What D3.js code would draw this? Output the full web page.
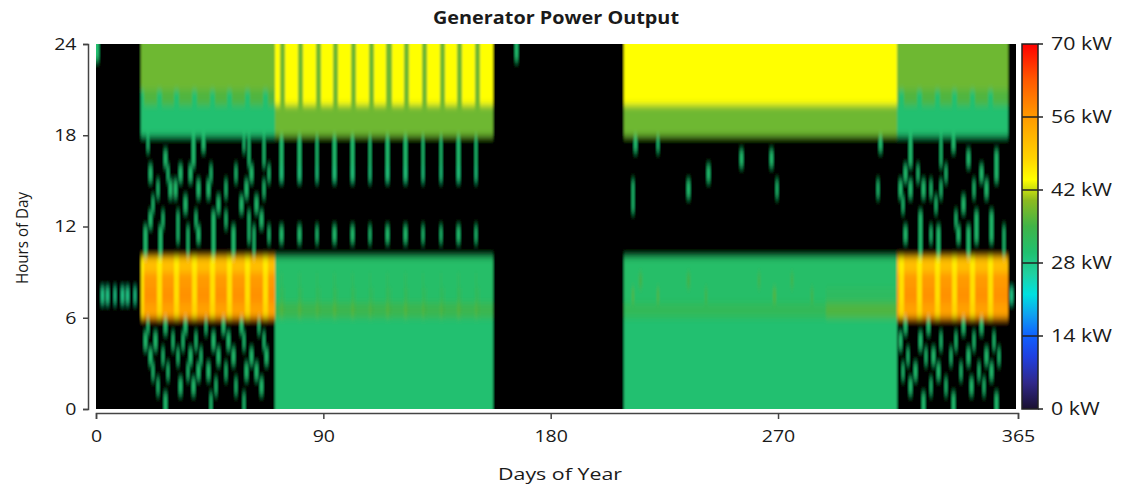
<!DOCTYPE html>
<html><head><meta charset="utf-8">
<script src="https://cdn.jsdelivr.net/npm/d3@7/dist/d3.min.js"></script>
<style>
body{margin:0;background:#fff;}
svg{display:block;}
text{font-family:"Open Sans",sans-serif;fill:#1a1a1a;}
</style>
</head><body>
<svg id="chart" width="1127" height="490"></svg>
<script>
// ---------- tick labels ----------
const dayTicks = [0, 90, 180, 270, 365];
const hourTicks = [0, 6, 12, 18, 24];
const kwTicks = [0, 14, 28, 42, 56, 70];

// ---------- colour ramp (kW -> colour) ----------
const rampKW = [0, 5, 10, 14, 18, 22, 26, 30, 35, 40, 44, 48, 56, 63, 70];
const rampColors = ["#1a1030", "#30288a", "#2040e0", "#1060ff", "#10a0f0", "#00e0e0", "#20d0a0",
  "#20c070", "#40b448", "#8cba20", "#ffff00", "#ffd400", "#ff9a00", "#ff5a00", "#ff0000"];

// ---------- operating seasons (day ranges) ----------
const seasonStart = [0, 18, 71, 157, 209, 289, 317, 361];
const seasonEnd   = [18, 71, 157, 209, 289, 317, 361, 365];
const seasonName  = ["off", "winter", "spring", "off", "summer", "lateSummer", "winter", "off"];

// ---------- typical hourly output (kW), hours 0..23 ----------
const offDay          = [0,0,0,0,0,0, 0,0,0,0, 0,0,0,0,0,0,0,0, 0,0,0,0,0,0];
const winterWeekday   = [0,0,0,0,0,0, 55,57,56,51, 0,0,0,0,0,0,0,0, 30,30,36,38,38,38];
const winterWeekend   = [0,0,0,0,0,0, 48,47,47,46, 0,0,0,0,0,0,0,0, 30,30,30,38,38,38];
const springWeekday   = [30,30,30,30,30,30, 34,31,31,31, 0,0,0,0,0,0,0,0, 38,38,44,44,44,44];
const springSaturday  = [30,30,30,30,30,30, 36,33,32,31, 0,30,0,0,0,29,30,30, 38,38,38,38,38,38];
const springSunday    = [30,30,30,30,30,30, 35,32,31,31, 0,0,0,0,0,0,0,0, 38,38,38,38,38,38];
const summerWeekday   = [30,30,30,30,30,30, 33,31,31,31, 0,0,0,0,0,0,0,0, 38,38,44,44,44,44];
const lateSummerDay   = [30,30,30,30,30,30, 36,32,31,31, 0,0,0,0,0,0,0,0, 38,38,44,44,44,44];

// ---------- weekend days ----------
const saturdays = [17,24,31,38,45,52,59,66,73,80,87,94,101,108,115,122,129,136,143,150,
                   318,325,332,339,346,353];
const sundays   = [18,25,32,39,46,53,60,67,74,81,88,95,102,109,116,123,130,137,144,151,
                   319,326,333,340,347,354];

// ---------- individual hours that differ from the typical day: [day, hour, kW] ----------
const spotDays = [
  // early January test runs
  [2,7,28],[4,7,28],[7,7,28],[10,7,28],[12,7,28],[15,7,28],[0,23,30],
  // winter (Jan-Mar)
  [20,17,30],[38,17,30],[42,17,30],[58,17,30],[60,17,30],[66,17,30],
  [27,16,30],[38,16,30],[60,16,30],[66,16,30],
  [21,15,30],[28,15,30],[33,15,30],[37,15,30],[45,15,30],[55,15,30],[61,15,30],[68,15,30],
  [24,14,30],[29,14,30],[31,14,30],[40,14,30],[44,14,30],[51,14,30],[59,14,30],[66,14,30],
  [22,13,30],[35,13,30],[48,13,30],[57,13,30],[63,13,30],
  [21,12,30],[26,12,30],[32,12,30],[39,12,30],[46,12,30],[51,12,30],[60,12,30],[65,12,30],
  [19,11,30],[25,11,30],[32,11,30],[36,11,30],[40,11,30],[46,11,30],[54,11,30],[60,11,30],[62,11,30],[68,11,30],
  [19,10,30],[25,10,30],[36,10,30],[46,10,30],[54,10,30],[62,10,30],
  [20,5,30],[27,5,30],[35,5,30],[43,5,30],[50,5,30],[57,5,30],[64,5,30],
  [19,4,30],[23,4,30],[30,4,30],[34,4,30],[39,4,30],[46,4,30],[52,4,30],[58,4,30],[66,4,30],
  [21,3,30],[26,3,30],[32,3,30],[37,3,30],[41,3,30],[48,3,30],[54,3,30],[61,3,30],[67,3,30],
  [22,2,30],[28,2,30],[36,2,30],[40,2,30],[44,2,30],[51,2,30],[59,2,30],[63,2,30],
  [24,1,30],[33,1,30],[38,1,30],[47,1,30],[55,1,30],[65,1,30],
  [27,0,30],[45,0,30],[58,0,30],
  // mid-year
  [166,23,30],
  [213,17,30],[222,17,30],[212,13,30],[212,14,30],[234,14,30],[242,15,30],[255,16,30],
  [267,16,30],[269,14,30],[310,17,30],[309,14,30],
  [212,7,36],[215,8,35],[222,7,36],[234,8,35],[241,7,35],[262,8,35],[268,7,36],[275,8,35],[283,7,35],
  // winter (Nov-Dec)
  [322,17,30],[334,17,30],[339,17,30],
  [322,16,30],[334,16,30],[345,16,30],[356,16,30],
  [320,15,30],[325,15,30],[336,15,30],[350,15,30],[356,15,30],
  [318,14,30],[322,14,30],[327,14,30],[330,14,30],[334,14,30],[347,14,30],[352,14,30],
  [319,13,30],[332,13,30],[343,13,30],
  [326,12,30],[340,12,30],[348,12,30],[354,12,30],
  [320,11,30],[326,11,30],[330,11,30],[333,11,30],[341,11,30],[345,11,30],[348,11,30],[354,11,30],[359,11,30],
  [326,10,30],[333,10,30],[345,10,30],[359,10,30],
  [320,5,30],[329,5,30],[343,5,30],[350,5,30],
  [318,4,30],[326,4,30],[334,4,30],[340,4,30],[347,4,30],[355,4,30],
  [321,3,30],[328,3,30],[331,3,30],[338,3,30],[345,3,30],[352,3,30],[357,3,30],
  [319,2,30],[324,2,30],[333,2,30],[342,2,30],[349,2,30],[354,2,30],
  [322,1,30],[330,1,30],[336,1,30],[346,1,30],[351,1,30],
  [327,0,30],[339,0,30],[356,0,30],
  [362,7,28]
];

// ---------- build the day x hour table ----------
const profileTable = {
  off:        {weekday: offDay, saturday: offDay, sunday: offDay},
  winter:     {weekday: winterWeekday, saturday: winterWeekend, sunday: winterWeekend},
  spring:     {weekday: springWeekday, saturday: springSaturday, sunday: springSunday},
  summer:     {weekday: summerWeekday, saturday: summerWeekday, sunday: summerWeekday},
  lateSummer: {weekday: lateSummerDay, saturday: lateSummerDay, sunday: lateSummerDay}
};
const cells = [];
for (let d = 0; d < 365; d++) {
  const s = seasonStart.findIndex((st, i) => d >= st && d < seasonEnd[i]);
  const p = profileTable[seasonName[s]];
  const prof = saturdays.includes(d) ? p.saturday : (sundays.includes(d) ? p.sunday : p.weekday);
  for (let h = 0; h < 24; h++) cells.push({day: d, hour: h, kw: prof[h]});
}
spotDays.forEach(([d, h, v]) => { cells[d * 24 + h].kw = v; });

// ---------- drawing ----------
const svg = d3.select("#chart");
const x = d3.scaleLinear().domain([0, 365]).range([96, 1018]);
const y = d3.scaleLinear().domain([0, 24]).range([409, 44]);
const color = d3.scaleLinear().domain(rampKW).range(rampColors).clamp(true);
const plotL = 96, plotR = 1016, plotT = 44, plotB = 409;

const defs = svg.append("defs");
defs.append("clipPath").attr("id", "plotClip").append("rect")
  .attr("x", plotL).attr("y", plotT).attr("width", plotR - plotL).attr("height", plotB - plotT);
defs.append("filter").attr("id", "smooth").attr("filterUnits", "userSpaceOnUse")
  .attr("x", plotL - 40).attr("y", plotT - 40).attr("width", plotR - plotL + 80).attr("height", plotB - plotT + 80)
  .append("feGaussianBlur").attr("stdDeviation", "0.8 3.6");

const heat = svg.append("g").attr("clip-path", "url(#plotClip)")
  .append("g").attr("filter", "url(#smooth)");
heat.append("rect").attr("x", plotL - 35).attr("y", plotT - 35)
  .attr("width", plotR - plotL + 70).attr("height", plotB - plotT + 70).attr("fill", "#000");
const ext = 30;
heat.selectAll("rect.cell").data(cells).join("rect").attr("class", "cell")
  .attr("shape-rendering", "crispEdges")
  .attr("x", d => x(d.day) - (d.day === 0 ? ext : 0))
  .attr("width", d => x(d.day + 1) - x(d.day) + 0.5 + (d.day === 0 || d.day === 364 ? ext : 0))
  .attr("y", d => y(d.hour + 1) - (d.hour === 23 ? ext : 0))
  .attr("height", d => y(d.hour) - y(d.hour + 1) + 0.5 + (d.hour === 23 || d.hour === 0 ? ext : 0))
  .attr("fill", d => d.kw > 0 ? color(d.kw) : "#000");

// axes
function styleAxis(g) {
  g.selectAll("path,line").attr("stroke", "#444").attr("stroke-width", 1.5);
  g.selectAll("text").attr("font-size", 17).attr("fill", "#1a1a1a")
    .attr("font-family", '"Open Sans",sans-serif');
}
const yAxis = svg.append("g").attr("transform", "translate(88,0)")
  .call(d3.axisLeft(y).tickValues(hourTicks).tickSize(5).tickPadding(5).tickFormat(d3.format("d")));
styleAxis(yAxis);
yAxis.selectAll("text").attr("transform", "scale(1.15,1)");

const xAxis = svg.append("g").attr("transform", "translate(0,413)")
  .call(d3.axisBottom(x).tickValues(dayTicks).tickSize(6).tickPadding(11).tickFormat(d3.format("d")));
styleAxis(xAxis);
xAxis.selectAll("text").attr("transform", "scale(1.15,1)");

// titles
svg.append("text").attr("x", 556).attr("y", 24).attr("text-anchor", "middle")
  .attr("font-size", 17).attr("font-weight", "bold").attr("textLength", 246)
  .attr("lengthAdjust", "spacingAndGlyphs").text("Generator Power Output");
svg.append("text").attr("x", 560).attr("y", 480).attr("text-anchor", "middle")
  .attr("font-size", 17).attr("textLength", 124).attr("lengthAdjust", "spacingAndGlyphs")
  .text("Days of Year");
svg.append("text").attr("transform", "translate(28,238) rotate(-90)").attr("text-anchor", "middle")
  .attr("font-size", 17).attr("textLength", 92).attr("lengthAdjust", "spacingAndGlyphs")
  .text("Hours of Day");

// colour bar
const cbX = 1022, cbW = 16;
const cy = d3.scaleLinear().domain([0, 70]).range([409, 44]);
const grad = defs.append("linearGradient").attr("id", "cbGrad")
  .attr("x1", 0).attr("y1", 1).attr("x2", 0).attr("y2", 0);
grad.selectAll("stop").data(rampKW).join("stop")
  .attr("offset", d => d / 70).attr("stop-color", (d, i) => rampColors[i]);
svg.append("rect").attr("x", cbX).attr("y", cy(70)).attr("width", cbW).attr("height", cy(0) - cy(70))
  .attr("fill", "url(#cbGrad)").attr("stroke", "#222").attr("stroke-width", 1.5);
const cbTicks = svg.append("g");
cbTicks.selectAll("line").data(kwTicks).join("line")
  .attr("x1", d => (d === 0 || d === 70) ? cbX + cbW : cbX).attr("x2", cbX + cbW + 5)
  .attr("y1", d => cy(d)).attr("y2", d => cy(d)).attr("stroke", "#222").attr("stroke-width", 1.5);
cbTicks.selectAll("text").data(kwTicks).join("text")
  .attr("transform", d => `translate(${cbX + cbW + 13},${cy(d)}) scale(1.22,1)`)
  .attr("dy", "0.36em").attr("font-size", 17.5).text(d => d + " kW");
</script>
</body></html>
